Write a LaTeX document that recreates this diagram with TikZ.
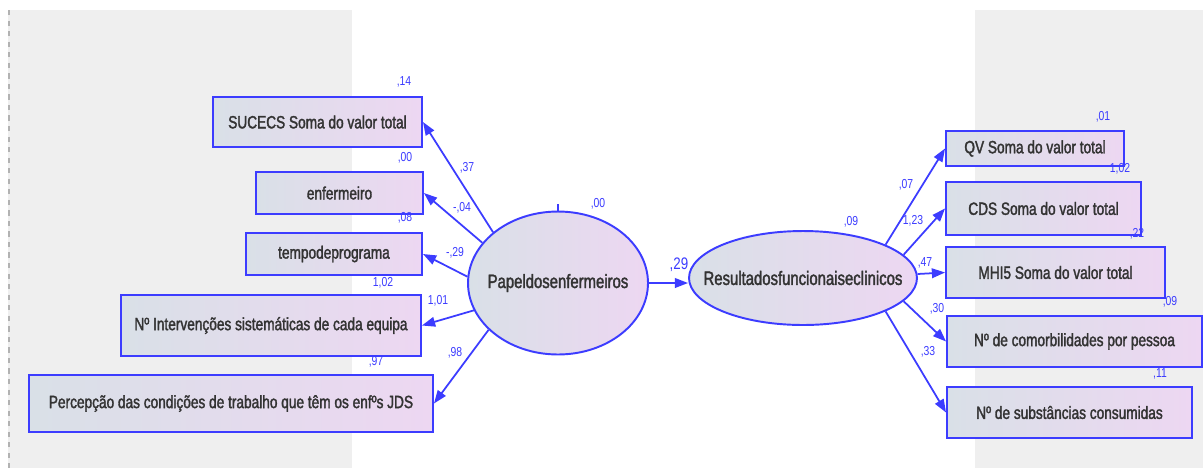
\documentclass[tikz,border=0pt]{standalone}
\usepackage{fontspec}
\setmainfont{Liberation Sans}
\newfontfamily\narrowsf[FakeStretch=0.77,FakeBold=1.8]{Liberation Sans}
\newfontfamily\narrowlabel[FakeStretch=0.8]{Liberation Sans}
\usetikzlibrary{arrows.meta,shapes.geometric}
\definecolor{amosblue}{HTML}{3C3CFF}
\definecolor{txtgray}{HTML}{333333}
\definecolor{fillL}{HTML}{D9E0E7}
\definecolor{fillR}{HTML}{EDD7F2}
\definecolor{panel}{HTML}{EFEFEF}
\tikzset{
  obs/.style={draw=amosblue, line width=1.1pt, left color=fillL, right color=fillR,
    font=\narrowsf\fontsize{10.1}{12}\selectfont, text=txtgray, inner sep=0pt},
  lat/.style={ellipse, draw=amosblue, line width=1.1pt, left color=fillL, right color=fillR,
    font=\narrowsf\fontsize{11}{13}\selectfont, text=txtgray, inner sep=0pt},
  link/.style={draw=amosblue, line width=1pt, -{Triangle[length=7.5pt,width=5.5pt]}},
  coef/.style={font=\narrowlabel\fontsize{7.4}{8}\selectfont, text=amosblue, inner sep=0pt}
}
% observed variable box given by its corners (pixel grid)
\newcommand\obsbox[6]{%
  \node[obs, minimum width={(#4-#2)*0.02cm}, minimum height={(#5-#3)*0.02cm}]
    (#1) at ({(#2+#4)/2},{(#3+#5)/2}) {#6};}
\begin{document}
\begin{tikzpicture}[x=0.02cm, y=-0.02cm]
\useasboundingbox (0,0) rectangle (1203,468);
\fill[white] (0,0) rectangle (1203,468);
% background panels
\fill[panel] (8,10) rectangle (352,468);
\fill[panel] (975,10) rectangle (1203,468);
\draw[gray!60, dashed, line width=0.6pt] (9,10) -- (9,468);

% latent variables (text boxed to zero width so the ellipse keeps its size)
\node[lat, minimum width=3.6cm, minimum height=2.86cm] (P) at (558,283)
  {\makebox[0pt]{Papeldosenfermeiros}};
\node[lat, minimum width=4.56cm, minimum height=1.88cm] (R) at (803,278)
  {\makebox[0pt]{Resultadosfuncionaisecl\kern0.2pt inicos}};

% indicators of the left factor
\obsbox{s1}{213}{97}{422}{147}{SUCECS Soma do valor total}
\obsbox{s2}{256}{172}{423}{214}{enfermeiro}
\obsbox{s3}{246}{233}{422}{275}{tempodeprograma}
\obsbox{s4}{121}{295}{421}{356}{Nº Intervenções sistemáticas de cada equipa}
\obsbox{s5}{29}{375}{433}{432}{Percepção das condições de trabalho que têm os enfºs JDS}

% indicators of the right factor
\obsbox{r1}{946}{131}{1124}{166}{QV Soma do valor total}
\obsbox{r2}{946}{182}{1141}{235}{CDS Soma do valor total}
\obsbox{r3}{946}{247}{1165}{298}{MHI5 Soma do valor total}
\obsbox{r4}{947}{316}{1202}{367}{Nº de comorbilidades por pessoa}
\obsbox{r5}{947}{387}{1192}{438}{Nº de substâncias consumidas}

% paths
\draw[link] (P.142) -- (s1.east);
\draw[link] (P.152) -- (s2.east);
\draw[link] (P.176) -- (s3.east);
\draw[link] (P.198) -- (s4.east);
\draw[link] (P.214) -- (s5.east);
\draw[link] (P.east) -- (R.west |- P.east);
\draw[link] (R.22.6) -- (r1.west);
\draw[link] (R.13.5) -- (r2.west);
\draw[link] (R.2) -- (r3.west);
\draw[link] (R.-13) -- (r4.west);
\draw[link] (R.-22.6) -- (r5.west);

% variance mark on the left factor
\coordinate (Ptop) at ([yshift=4pt]P.north);
\draw[amosblue, line width=1pt] (P.north) -- (Ptop);

% coefficients
\node[coef] (c1) at (404,82) {,14};
\node[coef] (c2) at (405,158) {,00};
\node[coef] (c3) at (405,218) {,08};
\node[coef] (c4) at (383,283) {1,02};
\node[coef] (c5) at (376,362) {,97};
\node[coef] (w1) at (467,168) {,37};
\node[coef] (w2) at (462,208) {-,04};
\node[coef] (w3) at (455,253) {-,29};
\node[coef] (w4) at (438,301) {1,01};
\node[coef] (w5) at (455,353) {,98};
\node[coef] (vP) at (598,204) {,00};
\node[coef, font=\narrowlabel\fontsize{9.5}{10}\selectfont] (b1) at (679,265) {,29};
\node[coef] (vR) at (851,222) {,09};
\node[coef] (d1) at (1103,117) {,01};
\node[coef] (d2) at (1120,169) {1,02};
\node[coef] (d3) at (1137,234) {,22};
\node[coef] (d4) at (1170,302) {,09};
\node[coef] (d5) at (1160,374) {,11};
\node[coef] (g1) at (906,185) {,07};
\node[coef] (g2) at (913,221) {1,23};
\node[coef] (g3) at (925,263) {,47};
\node[coef] (g4) at (937,309) {,30};
\node[coef] (g5) at (928,352) {,33};
\end{tikzpicture}
\end{document}
